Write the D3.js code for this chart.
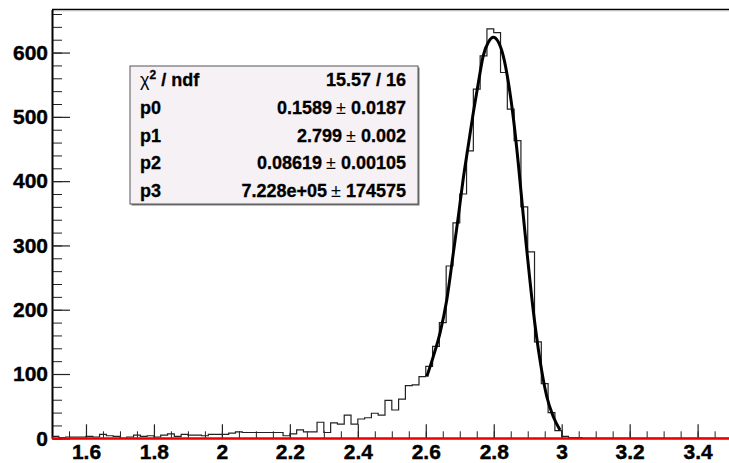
<!DOCTYPE html>
<html>
<head>
<meta charset="utf-8">
<script src="https://cdn.jsdelivr.net/npm/d3@7"></script>
<style>
  html, body { margin: 0; padding: 0; background: #fff; }
  svg { display: block; font-family: "Liberation Sans", Arial, sans-serif; }
</style>
</head>
<body>
<script>
// Histogram: 100 bins of width 0.02 from 1.5 to 3.5 (counts)
const binStart = 1.5;
const binWidth = 0.02;
const counts = [
    3, 1, 2, 2, 2, 3, 2, 6, 4, 3,
    0, 2, 5, 3, 4, 2, 5, 7, 3, 6,
    5, 5, 4, 6, 6, 6, 8, 10, 9, 9,
    9, 9, 9, 9, 4, 7, 13, 10, 10, 25,
    9, 24, 22, 36, 22, 30, 32, 39, 36, 59,
    44, 61, 82, 83, 96, 112, 143, 180, 268, 335,
    380, 447, 543, 595, 637, 631, 569, 512, 463, 360,
    290, 150, 85, 40, 12, 3, 1, 1, 0, 0,
    0, 0, 0, 0, 0, 0, 0, 0, 0, 0,
    0, 0, 0, 0, 0, 0, 0, 0, 0, 0
];

// Fit curve, points
const fitX = [2.603, 2.622, 2.642, 2.662, 2.681, 2.696, 2.710, 2.725, 2.740, 2.755,
              2.769, 2.784, 2.799, 2.813, 2.828, 2.843, 2.858, 2.872, 2.887, 2.897,
              2.916, 2.936, 2.956, 2.975, 2.995];
const fitY = [96, 127, 164, 216, 288, 346, 403, 455, 507, 554,
              595, 616, 624, 617, 595, 554, 497, 429, 346, 294,
              200, 122, 65, 34, 13];

// Stats box
const statLabels = ["ndf", "p0", "p1", "p2", "p3"];
const statValues = [
    ["15.57 / 16"],
    ["0.1589", "0.0187"],
    ["2.799", "0.002"],
    ["0.08619", "0.00105"],
    ["7.228e+05", "174575"]
];

// Axis ticks
const xTicks = [1.6, 1.8, 2, 2.2, 2.4, 2.6, 2.8, 3, 3.2, 3.4];
const yTicks = [0, 100, 200, 300, 400, 500, 600];

const W = 729, H = 463;
const frameL = 52, frameT = 9.5, frameB = 438.3;
const font = "'Liberation Sans', Arial, sans-serif";

const svg = d3.select("body").append("svg")
    .attr("width", W)
    .attr("height", H);

const x = d3.scaleLinear().domain([1.5, 3.5]).range([frameL, 731.6]);
const y = d3.scaleLinear().domain([0, 667]).range([frameB, frameT]);

// top frame line
svg.append("line")
    .attr("x1", frameL).attr("x2", W)
    .attr("y1", frameT).attr("y2", frameT)
    .attr("stroke", "#000").attr("stroke-width", 1.6);
svg.append("line")
    .attr("x1", frameL).attr("x2", W)
    .attr("y1", frameT + 1.3).attr("y2", frameT + 1.3)
    .attr("stroke", "#bbb").attr("stroke-width", 0.8);

// minor ticks
const xMinor = d3.range(1.5, 3.5001, 0.05);
const yMinor = d3.range(0, 667, 20);

svg.append("g")
    .attr("transform", `translate(0,${frameB})`)
    .call(d3.axisBottom(x).tickValues(xMinor).tickSize(-7).tickFormat(""))
    .call(g => g.select(".domain").remove())
    .call(g => g.selectAll("line").attr("stroke", "#222").attr("stroke-width", 1));

svg.append("g")
    .attr("transform", `translate(${frameL},0)`)
    .call(d3.axisLeft(y).tickValues(yMinor).tickSize(-10).tickFormat(""))
    .call(g => g.select(".domain").remove())
    .call(g => g.selectAll("line").attr("stroke", "#222").attr("stroke-width", 1));

// major ticks + labels
svg.append("g")
    .attr("transform", `translate(0,${frameB})`)
    .call(d3.axisBottom(x).tickValues(xTicks).tickSize(-14).tickSizeOuter(0)
        .tickPadding(6).tickFormat(d => String(d)))
    .call(g => g.select(".domain").attr("stroke", "#000").attr("stroke-width", 1.5))
    .call(g => g.selectAll("line").attr("stroke", "#222").attr("stroke-width", 1.2))
    .call(g => g.selectAll("text")
        .style("font-family", font).style("font-size", "21px").style("font-weight", "bold")
        .attr("fill", "#000").attr("stroke", "#000").attr("stroke-width", 0.4));

svg.append("g")
    .attr("transform", `translate(${frameL},0)`)
    .call(d3.axisLeft(y).tickValues(yTicks).tickSize(-18).tickSizeOuter(0)
        .tickPadding(4).tickFormat(d => String(d)))
    .call(g => g.select(".domain").attr("stroke", "#000").attr("stroke-width", 2))
    .call(g => g.selectAll("line").attr("stroke", "#222").attr("stroke-width", 1.2))
    .call(g => g.selectAll("text")
        .style("font-family", font).style("font-size", "21px").style("font-weight", "bold")
        .attr("fill", "#000").attr("stroke", "#000").attr("stroke-width", 0.4));

// histogram outline
const bins = counts.map((c, i) => ({ x0: binStart + i * binWidth, v: c }));
bins.push({ x0: binStart + counts.length * binWidth, v: counts[counts.length - 1] });

const step = d3.line()
    .x(d => x(d.x0))
    .y(d => y(d.v))
    .curve(d3.curveStepAfter);

svg.append("path")
    .datum(bins)
    .attr("fill", "none")
    .attr("stroke", "#222")
    .attr("stroke-width", 1.2)
    .attr("d", step);

// fit curve
const fit = fitX.map((fx, i) => ({ x: fx, y: fitY[i] }));
svg.append("path")
    .datum(fit)
    .attr("fill", "none")
    .attr("stroke", "#000")
    .attr("stroke-width", 3)
    .attr("stroke-linejoin", "round")
    .attr("d", d3.line().x(d => x(d.x)).y(d => y(d.y)).curve(d3.curveMonotoneX));

// red line at zero
svg.append("line")
    .attr("x1", frameL).attr("x2", W)
    .attr("y1", y(0)).attr("y2", y(0))
    .attr("stroke", "#ee0000").attr("stroke-width", 2);

// stats box
const box = { x: 130, y: 66, w: 288, h: 138 };
svg.append("rect")
    .attr("x", box.x + 1.5).attr("y", box.y + 1.5)
    .attr("width", box.w).attr("height", box.h)
    .attr("fill", "#777");
svg.append("rect")
    .attr("x", box.x).attr("y", box.y)
    .attr("width", box.w).attr("height", box.h)
    .attr("fill", "#f5f1f5")
    .attr("stroke", "#555").attr("stroke-width", 1);

const rowH = box.h / statLabels.length;
const stats = svg.append("g")
    .style("font-family", font)
    .style("font-size", "18px")
    .style("font-weight", "bold")
    .attr("fill", "#000")
    .attr("stroke", "#000")
    .attr("stroke-width", 0.3);

statLabels.forEach((lab, i) => {
    const by = box.y + rowH * i + rowH / 2 + 6.5;
    const t = stats.append("text").attr("x", box.x + 10).attr("y", by);
    if (i === 0) {
        t.append("tspan").style("font-weight", "normal").attr("stroke-width", 0).text("χ");
        t.append("tspan").style("font-size", "12px").attr("dy", -7).text("2");
        t.append("tspan").attr("dy", 7).text(" / ndf");
    } else {
        t.text(lab);
    }
    const v = statValues[i];
    const r = stats.append("text").attr("x", box.x + box.w - 12).attr("y", by)
        .attr("text-anchor", "end");
    if (v.length === 1) {
        r.text(v[0]);
    } else {
        r.append("tspan").text(v[0]);
        r.append("tspan").style("font-weight", "normal").attr("stroke-width", 0)
            .attr("dx", 4).text("±");
        r.append("tspan").text(" " + v[1]);
    }
});
</script>
</body>
</html>
